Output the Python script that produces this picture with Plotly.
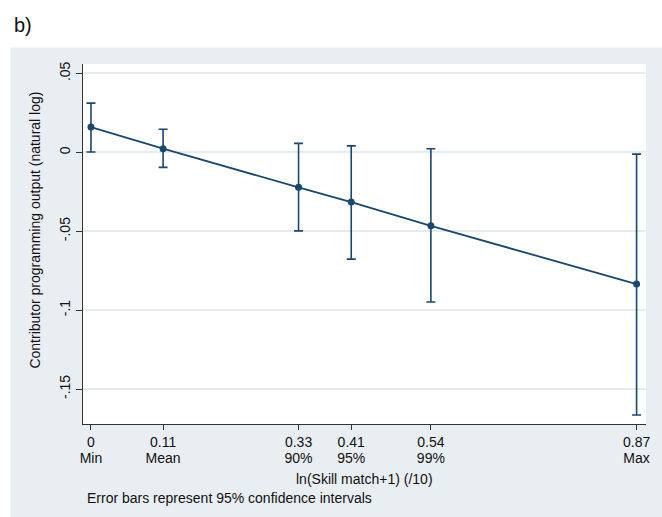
import plotly.graph_objects as go

# ---- data ----
skill_x = [0.0, 0.115, 0.331, 0.415, 0.542, 0.87]
tick_values_text = ["0", "0.11", "0.33", "0.41", "0.54", "0.87"]
tick_percentile_text = ["Min", "Mean", "90%", "95%", "99%", "Max"]
estimate = [0.016, 0.0023, -0.0222, -0.0315, -0.0466, -0.0835]
ci_low = [0.0002, -0.0095, -0.0498, -0.0677, -0.0949, -0.1665]
ci_high = [0.0312, 0.0146, 0.0057, 0.0041, 0.0023, -0.0011]
y_ticks = [0.05, 0.0, -0.05, -0.1, -0.15]
y_tick_text = [".05", "0", "-.05", "-.1", "-.15"]

NAVY = "#1a476f"
BG = "#e8eef1"
GRID = "#e4ecef"
FONT = "Liberation Sans, Arial, sans-serif"
TXT = "#111"

err_plus = [h - e for h, e in zip(ci_high, estimate)]
err_minus = [e - l for e, l in zip(estimate, ci_low)]

fig = go.Figure()
fig.add_trace(go.Scatter(
    x=skill_x, y=estimate, mode="lines+markers",
    line=dict(color=NAVY, width=1.8),
    marker=dict(color=NAVY, size=7),
    error_y=dict(type="data", symmetric=False, array=err_plus, arrayminus=err_minus,
                 color=NAVY, thickness=1.6, width=4.5),
    showlegend=False, hoverinfo="skip",
))
# invisible carrier trace so the second-line tick axis is drawn
fig.add_trace(go.Scatter(
    x=skill_x, y=estimate, xaxis="x2", mode="markers",
    marker=dict(opacity=0), showlegend=False, hoverinfo="skip",
))

W, H = 662, 517
L, R, T = 83, 12.5, 63.5
PLOT_BOTTOM = 424      # px of the x-axis line
AXIS2 = 440            # px of the hidden axis carrying the second label line
B = H - AXIS2
pw = W - L - R
ph = H - T - B
y_dom0 = (AXIS2 - PLOT_BOTTOM) / ph

def px_x(p):
    return (p - L) / pw

def px_y(p):
    return (H - B - p) / ph

XR = [-0.0127, 0.885]

fig.update_layout(
    width=W, height=H, autosize=False,
    margin=dict(l=L, r=R, t=T, b=B, pad=0),
    paper_bgcolor=BG, plot_bgcolor="white",
    font=dict(family=FONT, size=14, color=TXT),
    xaxis=dict(
        range=XR, anchor="y",
        tickmode="array", tickvals=skill_x, ticktext=tick_values_text,
        ticks="outside", ticklen=5, tickcolor="#333", tickwidth=1,
        showgrid=False, zeroline=False,
        showline=True, linecolor="#333", linewidth=1,
        tickfont=dict(size=14, family=FONT, color=TXT),
    ),
    xaxis2=dict(
        range=XR, overlaying="x", anchor="free", position=0, side="bottom",
        tickmode="array", tickvals=skill_x, ticktext=tick_percentile_text,
        ticks="outside", ticklen=5, tickcolor="rgba(0,0,0,0)",
        showgrid=False, zeroline=False, showline=False,
        tickfont=dict(size=14, family=FONT, color=TXT),
    ),
    yaxis=dict(
        range=[-0.1722, 0.056], domain=[y_dom0, 1],
        tickmode="array", tickvals=y_ticks, ticktext=y_tick_text,
        tickangle=-90,
        ticks="outside", ticklen=6, tickcolor="#333", tickwidth=1,
        showgrid=True, gridcolor=GRID, gridwidth=1.5,
        zeroline=False,
        showline=True, linecolor="#333", linewidth=1,
        tickfont=dict(size=14, family=FONT, color=TXT),
    ),
    shapes=[
        dict(type="rect", xref="paper", yref="paper",
             x0=-0.5, x1=1.5, y0=px_y(47), y1=px_y(-20),
             fillcolor="white", line=dict(width=0), layer="below"),
        dict(type="rect", xref="paper", yref="paper",
             x0=px_x(-20), x1=px_x(10), y0=px_y(540), y1=px_y(-20),
             fillcolor="white", line=dict(width=0), layer="below"),
    ],
    annotations=[
        dict(text="b)", xref="paper", yref="paper", x=px_x(12), y=px_y(24),
             xanchor="left", yanchor="middle", showarrow=False,
             font=dict(size=20, family=FONT, color=TXT)),
        dict(text="Contributor programming output (natural log)", xref="paper", yref="paper",
             x=px_x(35), y=px_y(230), textangle=-90, xanchor="center", yanchor="middle",
             showarrow=False, font=dict(size=14, family=FONT, color=TXT)),
        dict(text="ln(Skill match+1) (/10)", xref="paper", yref="paper",
             x=px_x(366), y=px_y(479), xanchor="center", yanchor="middle",
             showarrow=False, font=dict(size=14, family=FONT, color=TXT)),
        dict(text="Error bars represent 95% confidence intervals", xref="paper", yref="paper",
             x=px_x(85), y=px_y(498), xanchor="left", yanchor="middle",
             showarrow=False, font=dict(size=14, family=FONT, color=TXT)),
    ],
)

fig.write_html(
    "out.html",
    config={"displayModeBar": False},
    post_script="document.body.style.margin='0';document.body.style.overflow='hidden';",
)
